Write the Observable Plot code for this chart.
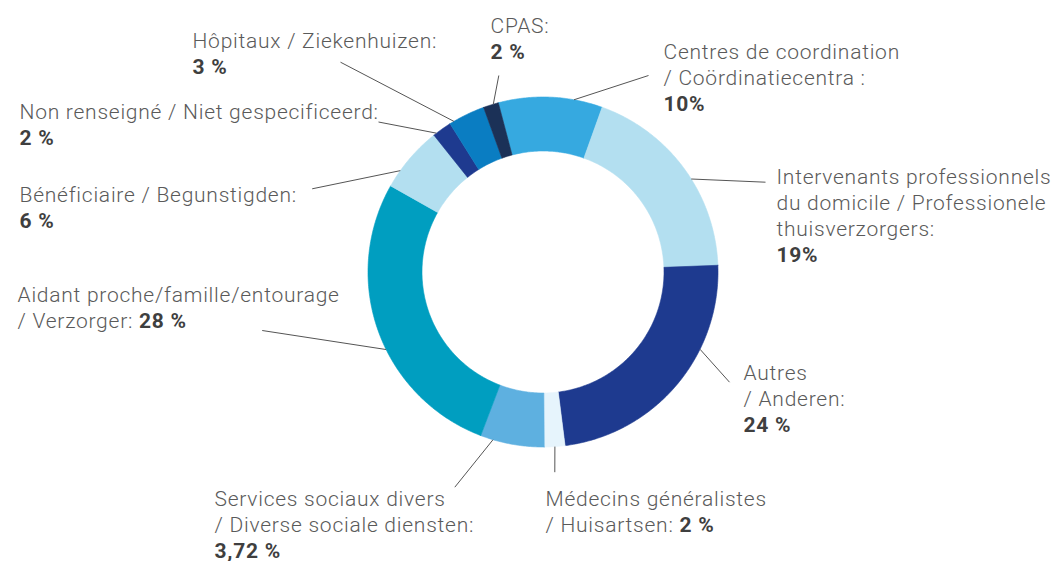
<!DOCTYPE html>
<html><head><meta charset="utf-8">
<script src="https://cdn.jsdelivr.net/npm/d3@7"></script>
<script src="https://cdn.jsdelivr.net/npm/@observablehq/plot@0.6"></script>
<style>body{margin:0;background:#fff}</style>
</head><body><div id="chart"></div>
<script>
// ---- data ----
const categories = ["Centres de coordination","Intervenants professionnels","Autres","Médecins généralistes","Services sociaux divers","Aidant proche","Bénéficiaire","Non renseigné","Hôpitaux","CPAS"];
// slice shares as drawn in the picture (clockwise, starting with Centres de coordination)
const sliceShares = [9.6, 18.9, 23.6, 1.9, 5.9, 27.4, 6.1, 1.8, 3.4, 1.4];
const valueLabels = ["10%","19%","24 %","2 %","3,72 %","28 %","6 %","2 %","3 %","2 %"];
const labelTexts = [
  ["Centres de coordination","/ Coördinatiecentra :"],
  ["Intervenants professionnels","du domicile / Professionele","thuisverzorgers:"],
  ["Autres","/ Anderen:"],
  ["Médecins généralistes","/ Huisartsen:"],
  ["Services sociaux divers","/ Diverse sociale diensten:"],
  ["Aidant proche/famille/entourage","/ Verzorger:"],
  ["Bénéficiaire / Begunstigden:"],
  ["Non renseigné / Niet gespecificeerd:"],
  ["Hôpitaux / Ziekenhuizen:"],
  ["CPAS:"]
];
const valueInline = [false,false,false,true,false,true,false,false,false,false];
const colors = ["#36a9e0","#b3dff0","#1e3a8f","#e6f4fc","#5eb0e0","#009ec0","#b3dff0","#1e3a8f","#0a7dc2","#1b3157"];

// ---- layout ----
const W = 1059, H = 561;
const cx = 542.5, cy = 271.5, R = 175, R0 = 121;
const startDeg = -14.8;
const lineH = 26, fontSize = 21, spacing = 0.75;
// label block: left x, first baseline y; leader: angle on ring (deg), far end x/y
const labelLayout = [
  {x: 663, y: 58,  lead: [10.2, 648, 75]},
  {x: 776, y: 183, lead: [57.9, 765, 181.7]},
  {x: 743, y: 379, lead: [116.2, 729, 381.7]},
  {x: 545, y: 505, lead: [176.1, 554.3, 471.7]},
  {x: 214, y: 505, lead: [196.6, 454.3, 486.7]},
  {x: 17,  y: 301, lead: [243.7, 261.7, 330]},
  {x: 19,  y: 201, lead: [305.4, 311.7, 188.3]},
  {x: 19,  y: 118, lead: [322.5, 378, 121.5]},
  {x: 192, y: 47,  lead: [329.4, 340, 61.7]},
  {x: 490, y: 32,  lead: [343.5, 498.3, 75]}
];

// ---- build ring polygons from the shares ----
const rad = d => d * Math.PI / 180;
const arcs = d3.pie().sort(null).startAngle(rad(startDeg)).endAngle(rad(startDeg) + 2 * Math.PI)(sliceShares);
const ringPts = [];
arcs.forEach((a, i) => {
  const n = Math.max(4, Math.ceil((a.endAngle - a.startAngle) / 0.01));
  const pts = [];
  for (let k = 0; k <= n; k++) {
    const t = a.startAngle + (a.endAngle - a.startAngle) * k / n;
    pts.push([cx + R * Math.sin(t), cy - R * Math.cos(t)]);
  }
  for (let k = n; k >= 0; k--) {
    const t = a.startAngle + (a.endAngle - a.startAngle) * k / n;
    pts.push([cx + R0 * Math.sin(t), cy - R0 * Math.cos(t)]);
  }
  pts.push(pts[0]);
  pts.forEach(p => ringPts.push({cat: categories[i], x: p[0], y: p[1]}));
});

// ---- leaders ----
const leaders = labelLayout.map(l => {
  const t = rad(l.lead[0]);
  return {x1: cx + R * Math.sin(t), y1: cy - R * Math.cos(t), x2: l.lead[1], y2: l.lead[2]};
});

// ---- text ----
const ctx = document.createElement("canvas").getContext("2d");
const fam = "Roboto";
ctx.font = `300 ${fontSize}px ${fam}`;
try { ctx.letterSpacing = spacing + "px"; } catch (e) {}
const regular = [], bold = [];
labelTexts.forEach((lines, i) => {
  const L = labelLayout[i];
  lines.forEach((t, j) => regular.push({x: L.x, y: L.y + j * lineH, text: t}));
  if (valueInline[i]) {
    const last = lines[lines.length - 1] + " ";
    const w = ctx.measureText(last).width;
    bold.push({x: L.x + w, y: L.y + (lines.length - 1) * lineH, text: valueLabels[i]});
  } else {
    bold.push({x: L.x, y: L.y + lines.length * lineH, text: valueLabels[i]});
  }
});

const chart = Plot.plot({
  width: W, height: H, margin: 0,
  style: {background: "#fff", fontFamily: fam, letterSpacing: spacing + "px"},
  x: {domain: [0, W], range: [0, W], axis: null},
  y: {domain: [0, H], range: [0, H], axis: null},
  color: {domain: categories, range: colors},
  marks: [
    Plot.line(ringPts, {x: "x", y: "y", z: "cat", fill: "cat", stroke: "cat", strokeWidth: 0.6, curve: "linear"}),
    Plot.link(leaders, {x1: "x1", y1: "y1", x2: "x2", y2: "y2", stroke: "#555", strokeWidth: 1}),
    Plot.text(regular, {x: "x", y: "y", text: "text", textAnchor: "start", lineAnchor: "bottom", fontSize, fontWeight: 300, fill: "#5a5a5a", fontFamily: fam}),
    Plot.text(bold, {x: "x", y: "y", text: "text", textAnchor: "start", lineAnchor: "bottom", fontSize, fontWeight: 700, fill: "#3f3f3f", fontFamily: fam})
  ]
});
document.getElementById("chart").appendChild(chart);
</script>
</body></html>
